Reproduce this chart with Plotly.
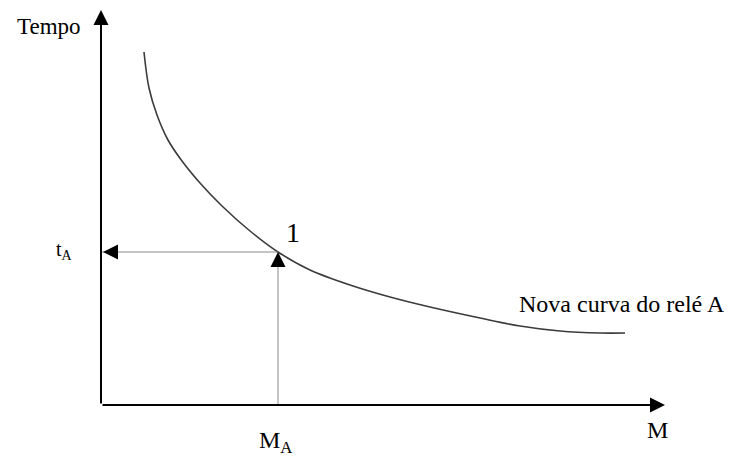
import plotly.graph_objects as go

# Curve data (multiplier M vs. time), in chart units
curve_m = [43, 48, 56, 67, 81, 99, 121, 149, 177, 209, 249, 289, 329, 379, 419, 459, 499, 524]
curve_t = [353, 317, 290, 265, 244, 222, 199, 174, 153, 135, 120, 108, 98, 87, 79, 74, 72, 72]

# Operating point 1
point_m = 177
point_t = 153

# Axis extents
axis_m_max = 564
axis_t_max = 395

curve_label = "Nova curva do relé A"
x_label = "M"
y_label = "Tempo"
point_label = "1"
m_label = "M<sub>A</sub>"
t_label = "t<sub>A</sub>"

FONT = "Liberation Serif, Times New Roman, serif"

fig = go.Figure()
fig.add_trace(go.Scatter(x=curve_m, y=curve_t, mode="lines",
                         line=dict(color="#3c3c3c", width=1.6, shape="spline", smoothing=1.0),
                         hoverinfo="skip", showlegend=False))
# Projection lines (gray)
fig.add_trace(go.Scatter(x=[0, point_m, point_m], y=[point_t, point_t, 0], mode="lines",
                         line=dict(color="#8a8a8a", width=1),
                         hoverinfo="skip", showlegend=False))

ann = []
# Axes with arrowheads
ann.append(dict(x=axis_m_max, y=0, ax=0, ay=0, xref="x", yref="y", axref="x", ayref="y",
                showarrow=True, arrowhead=2, arrowsize=1.5, arrowwidth=2, arrowcolor="black", text=""))
ann.append(dict(x=0, y=axis_t_max, ax=0, ay=0, xref="x", yref="y", axref="x", ayref="y",
                showarrow=True, arrowhead=2, arrowsize=1.5, arrowwidth=2, arrowcolor="black", text=""))
# Black arrowheads on projection lines
ann.append(dict(x=2, y=point_t, ax=12, ay=0, xref="x", yref="y",
                showarrow=True, arrowhead=2, arrowsize=3, arrowwidth=1, arrowcolor="black", text=""))
ann.append(dict(x=point_m, y=point_t, ax=0, ay=12, xref="x", yref="y",
                showarrow=True, arrowhead=2, arrowsize=3, arrowwidth=1, arrowcolor="black", text=""))

# Text labels
ann.append(dict(x=-52, y=379, text=y_label, showarrow=False, font=dict(family=FONT, size=23, color="black")))
ann.append(dict(x=-37, y=155, text=t_label, showarrow=False, font=dict(family=FONT, size=20, color="black")))
ann.append(dict(x=point_m + 15, y=point_t + 20, text=point_label, showarrow=False,
                font=dict(family=FONT, size=28, color="black")))
ann.append(dict(x=point_m - 3, y=-37, text=m_label, showarrow=False, font=dict(family=FONT, size=24, color="black")))
ann.append(dict(x=556, y=-25, text=x_label, showarrow=False, font=dict(family=FONT, size=24, color="black")))
ann.append(dict(x=521, y=101, text=curve_label, showarrow=False, font=dict(family=FONT, size=24, color="black")))

fig.update_layout(
    width=724, height=449,
    margin=dict(l=0, r=0, t=0, b=0),
    paper_bgcolor="white", plot_bgcolor="white",
    xaxis=dict(range=[-93, 631], visible=False, fixedrange=True),
    yaxis=dict(range=[-52, 397], visible=False, fixedrange=True),
    annotations=ann,
    showlegend=False,
)

fig.write_html("out.html", config={"displayModeBar": False})
